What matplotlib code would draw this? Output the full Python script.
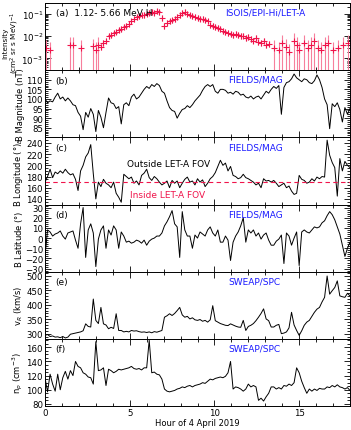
import numpy as np
import matplotlib
matplotlib.use('Agg')
import matplotlib.pyplot as plt
from matplotlib.ticker import MultipleLocator, FixedLocator

# ---- data ----
# common time grid for MAG / SPC traces, hours of 4 April 2019
hours = np.arange(0, 121) * 0.15

# (a) LET-A 1.12-5.66 MeV H intensity, main event
t_ep = [3.3, 3.45, 3.6, 3.75, 3.9, 4.05, 4.2, 4.35, 4.5, 4.65, 4.8, 4.95, 5.1, 5.25, 5.4,
        5.55, 5.7, 5.85, 6.0, 6.15, 6.3, 6.45, 6.6, 6.75, 6.9, 7.05, 7.2, 7.35, 7.5, 7.65,
        7.8, 7.95, 8.1, 8.25, 8.4, 8.55, 8.7, 8.85, 9.0, 9.15, 9.3, 9.45, 9.6, 9.75, 9.9,
        10.05, 10.2, 10.35, 10.5, 10.65, 10.8, 10.95, 11.1, 11.25, 11.4, 11.55, 11.7, 11.85,
        12.0, 12.15, 12.3, 12.45, 12.6, 12.75, 12.9, 13.05, 13.2]
flux_ep = [3.2e-3, 5.0e-3, 6.3e-3, 1.0e-2, 1.1e-2, 1.4e-2, 1.6e-2, 1.8e-2, 2.0e-2, 2.5e-2,
           2.8e-2, 3.5e-2, 4.5e-2, 5.6e-2, 7.1e-2, 7.9e-2, 8.3e-2, 8.9e-2, 0.10, 0.112,
           0.12, 0.112, 0.126, 0.117, 6.3e-2, 2.8e-2, 4.0e-2, 4.5e-2, 5.0e-2, 5.6e-2,
           7.1e-2, 8.9e-2, 0.105, 0.12, 0.10, 8.3e-2, 7.6e-2, 7.1e-2, 6.3e-2, 6.0e-2,
           5.6e-2, 5.0e-2, 4.5e-2, 3.2e-2, 2.8e-2, 2.5e-2, 2.2e-2, 2.0e-2, 1.7e-2, 1.5e-2,
           1.4e-2, 1.26e-2, 1.1e-2, 1.26e-2, 1.1e-2, 1.0e-2, 1.05e-2, 7.9e-3, 8.9e-3,
           7.1e-3, 6.3e-3, 7.9e-3, 5.6e-3, 5.0e-3, 6.3e-3, 4.0e-3, 4.5e-3]
# (a) isolated low-count points before/after the event
t_low = [0.05, 0.3, 1.5, 1.65, 2.1, 2.85, 3.0, 3.15, 13.5, 13.8, 14.0, 14.2, 14.4, 14.7,
         14.9, 15.0, 15.3, 15.5, 15.7, 15.9, 16.1, 16.3, 16.5, 16.7, 17.0, 17.3, 17.6, 17.9]
flux_low = [3.0e-3, 2.5e-3, 4.0e-3, 4.0e-3, 3.0e-3, 3.5e-3, 2.5e-3, 4.0e-3, 3.0e-3, 2.5e-3,
            5.0e-3, 3.2e-3, 2.0e-3, 6.0e-3, 4.0e-3, 2.5e-3, 5.0e-3, 3.0e-3, 4.0e-3, 6.0e-3,
            3.0e-3, 2.5e-3, 4.0e-3, 5.0e-3, 2.5e-3, 3.0e-3, 4.0e-3, 5.0e-3]

# (b) |B| (nT)
b_mag = [100, 98, 99, 98.5, 101, 103, 100, 101, 99, 100.5,
         99, 97, 96.5, 93, 91, 84, 93, 90.5, 95, 92,
         83, 94, 90.5, 85, 93, 100.5, 98, 97.5, 95, 96,
         87, 97, 98, 96.5, 101, 102.5, 100, 101, 103, 105,
         106.5, 105.5, 107.5, 106.5, 108, 107, 104, 103, 99, 95.5,
         94, 93.5, 90, 92.5, 94.5, 95, 96.5, 95.5, 97, 99,
         100.5, 102, 104.5, 106.5, 107.5, 106.5, 107.5, 104, 103, 105,
         105, 104.5, 103, 103.5, 102.5, 104, 103.5, 102, 102.5, 101,
         100.5, 101.5, 100, 101, 101.5, 100, 102, 104, 103, 105,
         106.5, 105.5, 107, 92, 106, 108.5, 109, 110.5, 113, 111,
         110, 109, 110.5, 110, 108.5, 108, 109.5, 112.5, 110, 106,
         100, 97, 84.5, 97.5, 96, 98, 94.5, 88, 95.5, 92,
         95]

# (c) B longitude (deg)
b_lon = [170, 180, 193, 178, 188, 185, 190, 186, 193, 187,
         183, 185, 175, 155, 190, 200, 215, 222, 237, 185,
         140, 170, 162, 175, 168, 165, 160, 170, 150, 143,
         134, 184, 180, 176, 179, 168, 172, 165, 182, 186,
         193, 178, 173, 180, 176, 170, 165, 168, 172, 160,
         173, 168, 172, 160, 168, 175, 179, 170, 172, 165,
         176, 170, 174, 162, 168, 176, 180, 187, 198, 209,
         200, 204, 190, 198, 182, 180, 176, 178, 184, 178,
         176, 173, 170, 165, 168, 160, 176, 172, 173, 170,
         173, 168, 162, 165, 168, 160, 163, 154, 148, 150,
         182, 175, 173, 168, 170, 176, 172, 179, 176, 180,
         179, 245, 218, 205, 196, 145, 212, 190, 207, 200,
         196]
lon_fov = 170

# (d) B latitude (deg)
b_lat = [-18, 8, 6, 2, 4, 5, 7, 2, -1, 5,
         6, 7, -2, -10, 14, 30, -19, 8, 14, 5,
         -28, -1, 8, 12, -10, 8, 3, 12, 8, -10,
         6, 2, -4, -3, -5, -4, -2, -3, -5, -2,
         -7, -3, -1, 0, 2, 2, 5, 12, 16, 21,
         27, 14, 11, -19, 26, 8, 2, 2, -10, 3,
         0, 6, 4, 2, 8, 11, 5, 2, 8, -4,
         -4, 2, -2, -22, -4, 2, 6, 12, 20, -4,
         8, 5, 8, 2, 5, -1, 3, 5, -2, -7,
         -7, -3, -1, 3, -25, 5, 2, -7, 0, 6,
         -27, 6, 8, 6, 5, 8, 11, 10, 11, 15,
         17, 22, 26, 23, 18, 11, 4, -7, -18, -10,
         -4]

# (e) radial speed (km/s)
v_r = [294, 297, 290, 292, 288, 289, 286, 290, 285, 288,
       298, 300, 302, 304, 306, 310, 334, 325, 323, 420,
       346, 335, 391, 334, 330, 317, 322, 318, 369, 311,
       311, 306, 308, 306, 311, 309, 310, 307, 305, 306,
       304, 306, 303, 307, 305, 308, 311, 357, 362, 369,
       363, 370, 380, 391, 365, 357, 360, 351, 355, 348,
       346, 349, 343, 346, 340, 348, 397, 345, 340, 335,
       332, 329, 328, 334, 330, 326, 323, 322, 346, 311,
       325, 329, 335, 345, 357, 370, 386, 351, 345, 323,
       323, 329, 332, 300, 302, 306, 320, 374, 330, 311,
       294, 310, 329, 340, 346, 360, 374, 385, 391, 410,
       426, 500, 437, 449, 460, 483, 431, 428, 426, 440,
       431]

# (f) proton density (cm^-3)
n_p = [117, 97, 122, 108, 98, 122, 100, 117, 126, 115,
       127, 120, 140, 133, 131, 124, 122, 118, 117, 108,
       168, 127, 128, 131, 106, 129, 127, 124, 126, 129,
       128, 129, 130, 131, 133, 130, 129, 130, 128, 131,
       131, 170, 124, 125, 122, 121, 115, 101, 98, 97,
       98, 99, 101, 102, 104, 103, 105, 106, 104, 106,
       107, 108, 110, 109, 112, 115, 114, 116, 117, 118,
       117, 119, 124, 140, 101, 104, 103, 101, 98, 101,
       108, 104, 106, 104, 85, 88, 84, 90, 95, 104,
       104, 101, 103, 101, 106, 105, 108, 106, 110, 131,
       124, 112, 103, 95, 101, 98, 101, 99, 102, 101,
       101, 104, 103, 106, 104, 107, 104, 103, 101, 103,
       99]

# ---- figure ----
fig = plt.figure(figsize=(3.51, 4.31), dpi=100)
left, width = 45 / 351, 305 / 351
top_px, bot_px = 4, 407
h = (bot_px - top_px) / 6 / 431
axes = []
for k in range(6):
    y0 = 1 - (top_px / 431) - (k + 1) * h
    axes.append(fig.add_axes([left, y0, width, h]))

red = '#f0144b'
pink = '#f77f9c'
blue = '#1a1aff'
fs = 6.5     # panel texts
tfs = 6.2    # tick labels
lfs = 6.0    # axis labels

for ax in axes:
    ax.set_xlim(0, 18)
    ax.xaxis.set_major_locator(MultipleLocator(5))
    ax.xaxis.set_minor_locator(MultipleLocator(1))
    ax.tick_params(which='both', direction='in', top=True, right=True, labelsize=tfs,
                   width=0.6, pad=1.5)
    ax.tick_params(which='major', length=4)
    ax.tick_params(which='minor', length=2)
    for s in ax.spines.values():
        s.set_linewidth(0.7)
    if ax is not axes[-1]:
        ax.tick_params(labelbottom=False)

# (a)
ax = axes[0]
ax.set_yscale('log')
ax.set_ylim(3e-4, 0.3)
ep = np.array(flux_ep)
lo = np.array(flux_low)
ax.errorbar(t_low, lo, yerr=[lo * 0.999, lo * 1.2], fmt='+', color=red, ecolor=pink,
            ms=4, mew=0.8, elinewidth=0.8, capsize=0)
ax.errorbar(t_ep, ep, yerr=[ep * 0.25, ep * 0.35], fmt='+', color=red, ecolor=pink,
            ms=4, mew=0.8, elinewidth=0.8, capsize=0)
ax.set_ylabel('Intensity\n(cm$^2$ sr s MeV)$^{-1}$', fontsize=5.2, linespacing=0.95)
ax.yaxis.set_label_coords(-0.08, 0.42)
ax.text(0.035, 0.86, '(a)  1.12- 5.66 MeV H', transform=ax.transAxes, fontsize=fs,
        va='center')
ax.text(0.59, 0.86, 'ISOIS/EPI-Hi/LET-A', transform=ax.transAxes, fontsize=fs,
        va='center', color=blue)

# (b)
ax = axes[1]
ax.plot(hours, b_mag, color='k', lw=0.7)
ax.set_ylim(80, 115)
ax.yaxis.set_major_locator(FixedLocator([85, 90, 95, 100, 105, 110]))
ax.yaxis.set_minor_locator(MultipleLocator(1))
ax.set_ylabel('B Magnitude (nT)', fontsize=lfs)
ax.text(0.6, 0.87, 'FIELDS/MAG', transform=ax.transAxes, fontsize=fs, va='center',
        color=blue)
ax.text(0.035, 0.85, '(b)', transform=ax.transAxes, fontsize=fs, va='center')

# (c)
ax = axes[2]
ax.plot(hours, b_lon, color='k', lw=0.7)
ax.axhline(lon_fov, color=red, ls=(0, (4, 3)), lw=0.8)
ax.set_ylim(130, 250)
ax.yaxis.set_major_locator(FixedLocator([140, 160, 180, 200, 220, 240]))
ax.yaxis.set_minor_locator(MultipleLocator(5))
ax.set_ylabel(r'B Longitude ($\degree$)$_B$', fontsize=lfs)
ax.text(0.6, 0.86, 'FIELDS/MAG', transform=ax.transAxes, fontsize=fs, va='center',
        color=blue)
ax.text(0.035, 0.85, '(c)', transform=ax.transAxes, fontsize=fs, va='center')
ax.text(0.27, 0.61, 'Outside LET-A FOV', transform=ax.transAxes, fontsize=fs,
        va='center')
ax.text(0.28, 0.15, 'Inside LET-A FOV', transform=ax.transAxes, fontsize=fs,
        va='center', color=red)

# (d)
ax = axes[3]
ax.plot(hours, b_lat, color='k', lw=0.7)
ax.set_ylim(-33, 33)
ax.yaxis.set_major_locator(MultipleLocator(10))
ax.yaxis.set_minor_locator(MultipleLocator(2))
ax.set_ylabel(r'B Latitude ($\degree$)', fontsize=lfs)
ax.text(0.6, 0.86, 'FIELDS/MAG', transform=ax.transAxes, fontsize=fs, va='center',
        color=blue)
ax.text(0.035, 0.85, '(d)', transform=ax.transAxes, fontsize=fs, va='center')

# (e)
ax = axes[4]
ax.plot(hours, v_r, color='k', lw=0.7)
ax.set_ylim(282, 515)
ax.yaxis.set_major_locator(MultipleLocator(50))
ax.yaxis.set_minor_locator(MultipleLocator(10))
ax.set_ylabel('v$_R$ (km/s)', fontsize=lfs)
ax.text(0.6, 0.86, 'SWEAP/SPC', transform=ax.transAxes, fontsize=fs, va='center',
        color=blue)
ax.text(0.035, 0.85, '(e)', transform=ax.transAxes, fontsize=fs, va='center')

# (f)
ax = axes[5]
ax.plot(hours, n_p, color='k', lw=0.7)
ax.set_ylim(77, 172)
ax.yaxis.set_major_locator(MultipleLocator(20))
ax.yaxis.set_minor_locator(MultipleLocator(5))
ax.set_ylabel('n$_p$ (cm$^{-3}$)', fontsize=lfs)
ax.text(0.6, 0.86, 'SWEAP/SPC', transform=ax.transAxes, fontsize=fs, va='center',
        color=blue)
ax.text(0.035, 0.85, '(f)', transform=ax.transAxes, fontsize=fs, va='center')
ax.set_xlabel('Hour of 4 April 2019', fontsize=lfs, labelpad=1)

for ax in axes[1:]:
    ax.yaxis.set_label_coords(-0.065, 0.5)

fig.savefig('out.png', dpi=100)
